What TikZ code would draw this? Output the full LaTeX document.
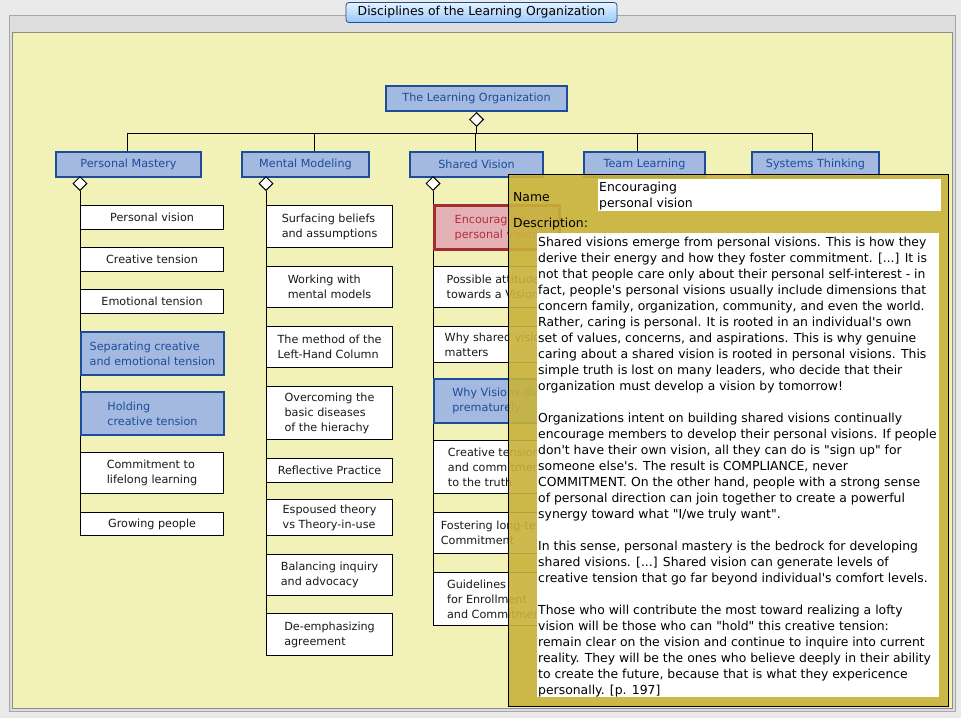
\documentclass[tikz,border=0pt]{standalone}
\usepackage{fontspec}
\setmainfont{DejaVu Sans}[Ligatures=TeXOff]
\usetikzlibrary{shapes.geometric,positioning}

\definecolor{deskgray}{RGB}{234,234,234}
\definecolor{bandgray}{RGB}{222,222,222}
\definecolor{canvasyellow}{RGB}{242,241,184}
\definecolor{topicblue}{RGB}{163,185,224}
\definecolor{topicedge}{RGB}{28,77,155}
\definecolor{selpink}{RGB}{228,177,182}
\definecolor{seledge}{RGB}{165,45,50}
\definecolor{seltext}{RGB}{180,45,55}
\definecolor{popolive}{RGB}{200,178,58}
\definecolor{tabtop}{RGB}{230,243,255}
\definecolor{tabbottom}{RGB}{150,200,250}

\newcommand{\boxfont}{\fontsize{11.2}{15}\selectfont}
\newcommand{\popfont}{\fontsize{12.4}{16}\selectfont}

\begin{document}
\begin{tikzpicture}[x=1pt, y=-1pt,
  every node/.style={inner sep=0pt, font=\boxfont},
  topic/.style={draw=topicedge, fill=topicblue, line width=2pt, text=topicedge,
    anchor=north west, minimum height=25pt},
  leaf/.style={draw=black, fill=white, line width=1.1pt, text=black!90,
    anchor=north west, align=left},
  hilite/.style={leaf, draw=topicedge, fill=topicblue, line width=2pt, text=topicedge},
  chosen/.style={leaf, draw=seledge, fill=selpink, line width=3pt, text=seltext},
  agg/.style={diamond, draw=black, fill=white, line width=1pt,
    minimum width=14pt, minimum height=14pt, anchor=north},
  wire/.style={draw=black, line width=1pt},
  pmcol/.style={minimum width=143pt},
  mmcol/.style={minimum width=126pt},
  svcol/.style={minimum width=125pt},
  field/.style={fill=white, anchor=north west},
]

%% ── Window frame ─────────────────────────────────────────────────────────
\useasboundingbox (0,0) rectangle (961,718);
\fill[deskgray] (0,0) rectangle (961,718);
\filldraw[fill=bandgray, draw=black!35] (9,15) rectangle (955,711);
\filldraw[fill=canvasyellow, draw=black!45] (12,32) rectangle (952,708);

\node[draw=topicedge, rounded corners=3pt, top color=tabtop, bottom color=tabbottom,
  minimum width=271pt, minimum height=20pt, line width=0.8pt,
  font=\fontsize{12.4}{14}\selectfont] (title) at (481.5,12.5)
  {Disciplines of the Learning Organization};

%% ── Root and the five disciplines ────────────────────────────────────────
\node[topic, minimum width=181pt] (root) at (385,85) {The Learning Organization};
\node[agg] (rootagg) at (root.south) {};

\node[topic, minimum width=145pt] (pm) at (55,151)  {Personal Mastery};
\node[topic, minimum width=127pt] (mm) at (241,151) {Mental Modeling};
\node[topic, minimum width=133pt] (sv) at (409,151) {Shared Vision};
\node[topic, minimum width=121pt] (tl) at (583,151) {Team Learning};
\node[topic, minimum width=127pt] (st) at (751,151) {Systems Thinking};

\node[agg] (pmagg) at (80,176)  {};
\node[agg] (mmagg) at (266,176) {};
\node[agg] (svagg) at (433,176) {};

%% bus from the root to each discipline
\coordinate (busL) at (127,133);
\coordinate (busR) at (812,133);
\draw[wire] (rootagg.south) -- (rootagg.south |- busL);
\draw[wire] (busL) -- (busR);
\foreach \x/\t in {127/pm, 314/mm, 475/sv, 637/tl, 812/st} {
  \draw[wire] (\x,133) -- (\x,0 |- \t.north);
}

%% spines down each column
\coordinate (pmend) at (80,535);
\coordinate (mmend) at (266,655);
\coordinate (svend) at (433,625);
\draw[wire] (pmagg.south) -- (pmend);
\draw[wire] (mmagg.south) -- (mmend);
\draw[wire] (svagg.south) -- (svend);

%% ── Personal Mastery ─────────────────────────────────────────────────────
\node[leaf, pmcol, minimum height=24pt] (pm1) at (80,205) {Personal vision};
\node[leaf, pmcol, minimum height=24pt] (pm2) at (80,247) {Creative tension};
\node[leaf, pmcol, minimum height=24pt] (pm3) at (80,289) {Emotional tension};
\node[hilite, pmcol, minimum height=43pt] (pm4) at (80,331) {Separating creative\\and emotional tension};
\node[hilite, pmcol, minimum height=43pt] (pm5) at (80,391) {Holding\\creative tension};
\node[leaf, pmcol, minimum height=41pt] (pm6) at (80,452) {Commitment to\\lifelong learning};
\node[leaf, pmcol, minimum height=23pt] (pm7) at (80,512) {Growing people};

%% ── Mental Modeling ──────────────────────────────────────────────────────
\node[leaf, mmcol, minimum height=42pt] (mm1) at (266,205) {Surfacing beliefs\\and assumptions};
\node[leaf, mmcol, minimum height=41pt] (mm2) at (266,266) {Working with\\mental models};
\node[leaf, mmcol, minimum height=41pt] (mm3) at (266,326) {The method of the\\Left-Hand Column};
\node[leaf, mmcol, minimum height=53pt] (mm4) at (266,386) {Overcoming the\\basic diseases\\of the hierachy};
\node[leaf, mmcol, minimum height=24pt] (mm5) at (266,458) {Reflective Practice};
\node[leaf, mmcol, minimum height=36pt] (mm6) at (266,499) {Espoused theory\\vs Theory-in-use};
\node[leaf, mmcol, minimum height=41pt] (mm7) at (266,554) {Balancing inquiry\\and advocacy};
\node[leaf, mmcol, minimum height=42pt] (mm8) at (266,613) {De-emphasizing\\agreement};

%% ── Shared Vision ────────────────────────────────────────────────────────
\node[chosen, svcol, minimum height=44pt] (sv1) at (433,204) {Encouraging\\personal vision};
\node[leaf, svcol, minimum height=41pt] (sv2) at (433,266) {Possible attitudes\\towards a Vision};
\node[leaf, svcol, minimum height=36pt] (sv3) at (433,326) {Why shared vision\\matters};
\node[hilite, svcol, minimum height=44pt] (sv4) at (433,378) {Why Visions die\\prematurely};
\node[leaf, svcol, minimum height=53pt] (sv5) at (433,440) {Creative tension\\and commitment\\to the truth};
\node[leaf, svcol, minimum height=41pt] (sv6) at (433,512) {Fostering long-term\\Commitment};
\node[leaf, svcol, minimum height=53pt] (sv7) at (433,572) {Guidelines\\for Enrollment\\and Commitment};

%% ── Tooltip of the selected element ──────────────────────────────────────
\node[draw=black, fill=popolive, fill opacity=0.9, line width=1pt, anchor=north west,
  minimum width=440pt, minimum height=532pt] (popup) at (508,174) {};
\node[field, minimum width=343pt, minimum height=32pt] (namefield) at (598,179) {};
\node[field, minimum width=402pt, minimum height=464pt] (descfield) at (537,233) {};

\node[anchor=base west, font=\popfont] (namelbl) at (513,201) {Name};
\node[anchor=base west, font=\popfont] (desclbl) at (513,227) {Description:};
\node[anchor=north west, align=left, font=\popfont] (nametxt) at (599,182)
  {Encouraging\\personal vision};

\node[anchor=north west, align=left, font=\popfont] (desctxt) at (538,236.6) {%
Shared visions emerge from personal visions. This is how they\\
derive their energy and how they foster commitment. [...] It is\\
not that people care only about their personal self-interest - in\\
fact, people's personal visions usually include dimensions that\\
concern family, organization, community, and even the world.\\
Rather, caring is personal. It is rooted in an individual's own\\
set of values, concerns, and aspirations. This is why genuine\\
caring about a shared vision is rooted in personal visions. This\\
simple truth is lost on many leaders, who decide that their\\
organization must develop a vision by tomorrow!\\[16pt]
Organizations intent on building shared visions continually\\
encourage members to develop their personal visions. If people\\
don't have their own vision, all they can do is "sign up" for\\
someone else's. The result is COMPLIANCE, never\\
COMMITMENT. On the other hand, people with a strong sense\\
of personal direction can join together to create a powerful\\
synergy toward what "I/we truly want".\\[16pt]
In this sense, personal mastery is the bedrock for developing\\
shared visions. [...] Shared vision can generate levels of\\
creative tension that go far beyond individual's comfort levels.\\[16pt]
Those who will contribute the most toward realizing a lofty\\
vision will be those who can "hold" this creative tension:\\
remain clear on the vision and continue to inquire into current\\
reality. They will be the ones who believe deeply in their ability\\
to create the future, because that is what they expericence\\
personally. [p. 197]};

\end{tikzpicture}
\end{document}
